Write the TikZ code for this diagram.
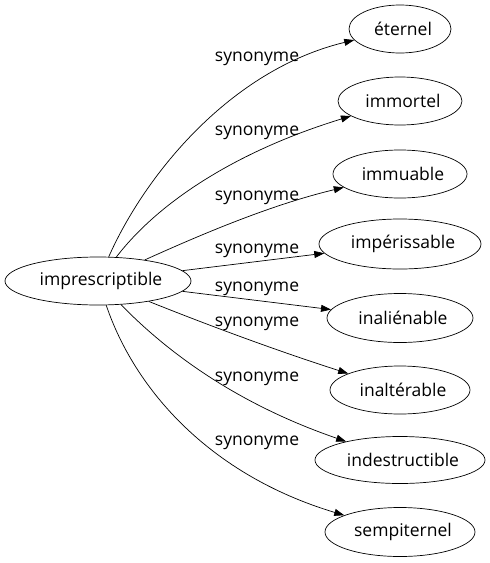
\documentclass[tikz,border=0pt]{standalone}
\usepackage{fontspec}
\setmainfont{Open Sans}
\usetikzlibrary{arrows.meta,shapes.geometric}
\newcommand{\shifttxt}[1]{\hspace*{6pt}#1}
\tikzset{
  word/.style={draw, ellipse, inner sep=0pt, line width=0.7pt, font=\fontsize{17.5}{19}\selectfont},
  edge/.style={draw, line width=0.7pt, -{Triangle[length=10pt,width=7pt]}},
  lab/.style={inner sep=0pt, font=\fontsize{17.5}{19}\selectfont}
}
\begin{document}
\begin{tikzpicture}[x=1pt,y=-1pt]
\useasboundingbox (0,0) rectangle (490,563);
\node[word, minimum width=186pt, minimum height=48pt] (c) at (98,281) {\shifttxt{imprescriptible}};
\node[word, minimum width=102pt, minimum height=48pt] (n1) at (400,29) {\shifttxt{éternel}};
\node[word, minimum width=124pt, minimum height=48pt] (n2) at (400,101) {\shifttxt{immortel}};
\node[word, minimum width=134pt, minimum height=48pt] (n3) at (400,174) {\shifttxt{immuable}};
\node[word, minimum width=162pt, minimum height=50pt] (n4) at (400,244) {\shifttxt{impérissable}};
\node[word, minimum width=146pt, minimum height=49pt] (n5) at (400,318) {\shifttxt{inaliénable}};
\node[word, minimum width=140pt, minimum height=48pt] (n6) at (400,390) {\shifttxt{inaltérable}};
\node[word, minimum width=170pt, minimum height=47pt] (n7) at (400,460) {\shifttxt{indestructible}};
\node[word, minimum width=150pt, minimum height=49pt] (n8) at (400,532) {\shifttxt{sempiternel}};

\draw[edge] (c) .. controls (145,175) and (230,70) .. (n1);
\draw[edge] (c) .. controls (160,200) and (240,150) .. (n2);
\draw[edge] (c) .. controls (200,235) and (270,205) .. (n3);
\draw[edge] (c) -- (n4);
\draw[edge] (c) -- (n5);
\draw[edge] (c) .. controls (220,330) and (290,355) .. (n6);
\draw[edge] (c) .. controls (170,355) and (240,405) .. (n7);
\draw[edge] (c) .. controls (135,390) and (210,475) .. (n8);

\node[lab] (l1) at (257,59) {synonyme};
\node[lab] (l2) at (257,133) {synonyme};
\node[lab] (l3) at (257,198) {synonyme};
\node[lab] (l4) at (257,251) {synonyme};
\node[lab] (l5) at (257,289) {synonyme};
\node[lab] (l6) at (257,324) {synonyme};
\node[lab] (l7) at (257,379) {synonyme};
\node[lab] (l8) at (257,443) {synonyme};
\end{tikzpicture}
\end{document}
